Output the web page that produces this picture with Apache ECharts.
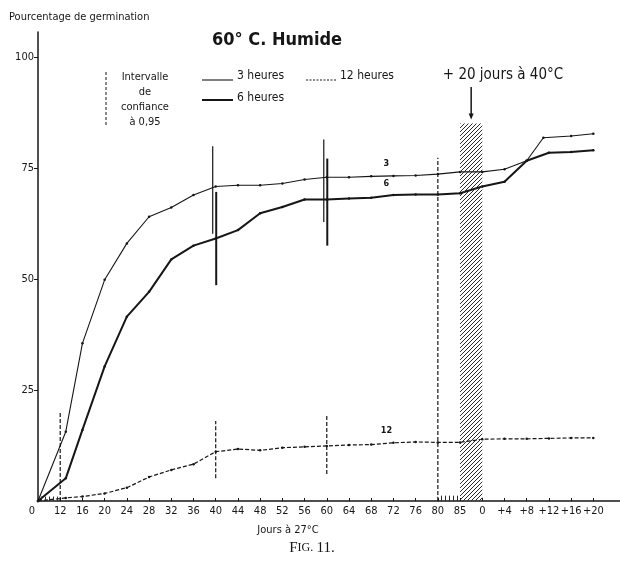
<!DOCTYPE html>
<html>
<head>
<meta charset="utf-8">
<script src="https://cdn.jsdelivr.net/npm/echarts@6/dist/echarts.min.js"></script>
<style>
  html, body { margin: 0; padding: 0; background: #fff; }
  #chart { width: 620px; height: 572px; }
</style>
</head>
<body>
<div id="chart"></div>
<script>
// x axis: 0..85 days at 27°C, then 0..+20 days after the 20 days at 40°C
const tickLabels = ['0', '12', '16', '20', '24', '28', '32', '36', '40', '44', '48', '52', '56', '60',
    '64', '68', '72', '76', '80', '85', '0', '+4', '+8', '+12', '+16', '+20'];

// days of the first period (27°C) and of the second one (after 40°C)
const daysP1 = [0, 13, 16, 20, 24, 28, 32, 36, 40, 44, 48, 52, 56, 60, 64, 68, 72, 76, 80, 85];
const daysP2 = [0, 4, 8, 12, 16, 20];
const daysP2_3h = [0, 4, 8, 11, 16, 20];

const h3P1 = [0, 15.6, 35.5, 49.8, 58.0, 64.0, 66.1, 68.9, 70.8, 71.1, 71.1, 71.5, 72.4, 72.9, 72.9, 73.1, 73.2, 73.3, 73.6, 74.1];
const h3P2 = [74.1, 74.7, 76.6, 81.8, 82.2, 82.7];
const h6P1 = [0, 5.1, 16.0, 30.3, 41.5, 47.1, 54.4, 57.5, 59.1, 61.0, 64.8, 66.2, 67.9, 67.9, 68.1, 68.3, 68.9, 69.0, 69.0, 69.3];
const h6P2 = [70.8, 71.9, 76.6, 78.4, 78.6, 79.0];
const h12P1 = [0, 0.7, 1.0, 1.7, 3.0, 5.4, 7.0, 8.3, 11.1, 11.7, 11.4, 12.0, 12.2, 12.4, 12.6, 12.7, 13.1, 13.3, 13.2, 13.2];
const h12P2 = [13.9, 14.0, 14.0, 14.1, 14.2, 14.2];

// intervalles de confiance à 0,95 (days of first period)
const ci3Days = [40, 60], ci3Low = [60.2, 62.8], ci3High = [79.9, 81.4];
const ci6Days = [40, 60], ci6Low = [48.6, 57.5], ci6High = [69.6, 77.1];
const ciDashDays = [12, 40, 60, 80], ciDashLow = [0, 5.1, 6.1, 0], ciDashHigh = [20.1, 18.0, 19.4, 77.3];

const heatTop = 85;

// position of a day on the x axis
function slot(period, day) {
    if (period === 2) return 20 + day / 4;
    if (day === 0) return 0;
    if (day === 85) return 19;
    return 1 + (day - 12) / 4;
}

function pairs(d1, v1, d2, v2) {
    const out = d1.map((d, i) => [slot(1, d), v1[i]]);
    return out.concat(d2.map((d, i) => [slot(2, d), v2[i]]));
}

function hatch(kind) {
    const c = document.createElement('canvas');
    const s = 4;
    c.width = s;
    c.height = s;
    const g = c.getContext('2d');
    g.strokeStyle = '#2a2a2a';
    g.lineWidth = 1;
    g.beginPath();
    if (kind === 'diag') {
        g.moveTo(0, s); g.lineTo(s, 0);
        g.moveTo(-1, 1); g.lineTo(1, -1);
        g.moveTo(s - 1, s + 1); g.lineTo(s + 1, s - 1);
    } else {
        g.moveTo(1.5, 0); g.lineTo(1.5, s);
    }
    g.stroke();
    return { image: c, repeat: 'repeat' };
}

const ink = '#161616';
const font = "'DejaVu Sans Condensed', 'Liberation Sans Narrow', 'DejaVu Sans', sans-serif";

function ciSeries(days, low, high, width, dash, offset) {
    return {
        type: 'custom',
        z: 4,
        data: days.map((d, i) => [slot(1, d), low[i], high[i]]),
        encode: { x: 0, y: [1, 2] },
        renderItem(params, api) {
            const a = api.coord([api.value(0), api.value(1)]);
            const b = api.coord([api.value(0), api.value(2)]);
            return {
                type: 'line',
                shape: { x1: a[0] + offset, y1: a[1], x2: b[0] + offset, y2: b[1] },
                style: { stroke: ink, lineWidth: width, lineDash: dash },
            };
        },
    };
}

function lineSeries(name, data, width, dash, tag) {
    const items = data.map((p, i) => {
        if (i === tag.index) {
            return {
                value: p,
                label: { show: true, formatter: tag.text, position: 'top', offset: [-7, -1],
                    fontSize: 9, fontWeight: 'bold', color: ink, fontFamily: font },
            };
        }
        return p;
    });
    return {
        name: name,
        type: 'line',
        z: 3,
        data: items,
        symbol: 'circle',
        symbolSize: 2.5,
        itemStyle: { color: ink },
        lineStyle: { color: ink, width: width, type: dash },
        label: { show: false },
    };
}

const chart = echarts.init(document.getElementById('chart'));

const option = {
    animation: false,
    backgroundColor: '#fff',
    grid: { left: 38, right: 0, top: 32, bottom: 71 },
    xAxis: {
        type: 'value',
        min: 0,
        max: 26.2,
        splitLine: { show: false },
        axisLine: { show: true, onZero: false, lineStyle: { color: ink, width: 1.5 } },
        axisTick: { show: true, inside: true, length: 3, customValues: tickLabels.map((t, i) => i),
            lineStyle: { color: ink } },
        axisLabel: {
            customValues: tickLabels.map((t, i) => i),
            formatter: (v) => (v === 0 ? '{z|0}' : tickLabels[v]),
            hideOverlap: false,
            showMinLabel: true,
            showMaxLabel: true,
            color: ink, fontSize: 11, fontFamily: font, margin: 5,
            rich: { z: { padding: [0, 12, 0, 0], fontSize: 11, fontFamily: font, color: ink } },
        },
    },
    yAxis: {
        type: 'value',
        min: 0,
        max: 105.6,
        splitLine: { show: false },
        axisLine: { show: true, lineStyle: { color: ink, width: 1.5 } },
        axisTick: { show: true, length: 4, customValues: [25, 50, 75, 100], lineStyle: { color: ink } },
        axisLabel: { customValues: [25, 50, 75, 100], color: ink, fontSize: 11, fontFamily: font, margin: 4 },
    },
    series: [
        lineSeries('3 heures', pairs(daysP1, h3P1, daysP2_3h, h3P2), 1.1, 'solid', { index: 16, text: '3' }),
        lineSeries('6 heures', pairs(daysP1, h6P1, daysP2, h6P2), 2, 'solid', { index: 16, text: '6' }),
        lineSeries('12 heures', pairs(daysP1, h12P1, daysP2, h12P2), 1.2, [4, 2], { index: 16, text: '12' }),
        ciSeries(ci3Days, ci3Low, ci3High, 1.2, null, -3),
        ciSeries(ci6Days, ci6Low, ci6High, 2, null, 0.5),
        ciSeries(ciDashDays, ciDashLow, ciDashHigh, 1.2, [4, 2], 0),
        {
            type: 'custom',
            z: 5,
            data: [[slot(1, 85), slot(2, 0), 0, heatTop, 'diag'], [0, 1, 0, 1, 'vert'], [18, 19, 0, 1.2, 'vert']],
            encode: { x: [0, 1], y: [2, 3] },
            renderItem(params, api) {
                const a = api.coord([api.value(0), api.value(3)]);
                const b = api.coord([api.value(1), api.value(2)]);
                return {
                    type: 'rect',
                    shape: { x: a[0], y: a[1], width: b[0] - a[0], height: b[1] - a[1] },
                    style: { fill: hatch(api.value(4)) },
                };
            },
        },
    ],
};

chart.setOption(option);

// annotations
const arrowX = chart.convertToPixel({ gridIndex: 0 }, [slot(1, 85) + 0.5, heatTop])[0];
const heatY = chart.convertToPixel({ gridIndex: 0 }, [0, heatTop])[1];

const txt = (x, y, text, size, extra) => ({
    type: 'text', x: x, y: y,
    style: Object.assign({ text: text, fill: ink, font: size + 'px ' + font, align: 'left', verticalAlign: 'middle' }, extra || {}),
});

chart.setOption({
    graphic: [
        txt(9, 17, 'Pourcentage de germination', 11),
        txt(277, 40, '60° C. Humide', 18, { font: 'bold 18px ' + font, align: 'center' }),
        // legend
        { type: 'line', shape: { x1: 106, y1: 72, x2: 106, y2: 125 }, style: { stroke: ink, lineWidth: 1, lineDash: [3, 2] } },
        txt(145, 77, 'Intervalle', 11, { align: 'center' }),
        txt(145, 92, 'de', 11, { align: 'center' }),
        txt(145, 107, 'confiance', 11, { align: 'center' }),
        txt(145, 122, 'à 0,95', 11, { align: 'center' }),
        { type: 'line', shape: { x1: 202, y1: 80, x2: 233, y2: 80 }, style: { stroke: ink, lineWidth: 1.1 } },
        txt(237, 76, '3 heures', 12),
        { type: 'line', shape: { x1: 202, y1: 100, x2: 233, y2: 100 }, style: { stroke: ink, lineWidth: 2 } },
        txt(237, 98, '6 heures', 12),
        { type: 'line', shape: { x1: 306, y1: 80, x2: 336, y2: 80 }, style: { stroke: ink, lineWidth: 1.2, lineDash: [2, 1.5] } },
        txt(340, 76, '12 heures', 12),
        // heating period
        txt(503, 75, '+ 20 jours à 40°C', 15, { align: 'center' }),
        { type: 'line', shape: { x1: arrowX, y1: 87, x2: arrowX, y2: heatY - 6 }, style: { stroke: ink, lineWidth: 1.5 } },
        { type: 'polygon', shape: { points: [[arrowX - 2.5, heatY - 10], [arrowX + 2.5, heatY - 10], [arrowX, heatY - 4]] },
            style: { fill: ink } },
        // axis title and caption
        txt(288, 530, 'Jours à 27°C', 11, { align: 'center' }),
        {
            type: 'text', x: 312, y: 548,
            style: {
                text: '{a|F}{b|IG.} {a|11.}', align: 'center', verticalAlign: 'middle',
                rich: {
                    a: { fontSize: 15, fontFamily: "'Liberation Serif', serif", fill: ink, color: ink },
                    b: { fontSize: 12, fontFamily: "'Liberation Serif', serif", fill: ink, color: ink },
                },
            },
        },
    ],
});
</script>
</body>
</html>
